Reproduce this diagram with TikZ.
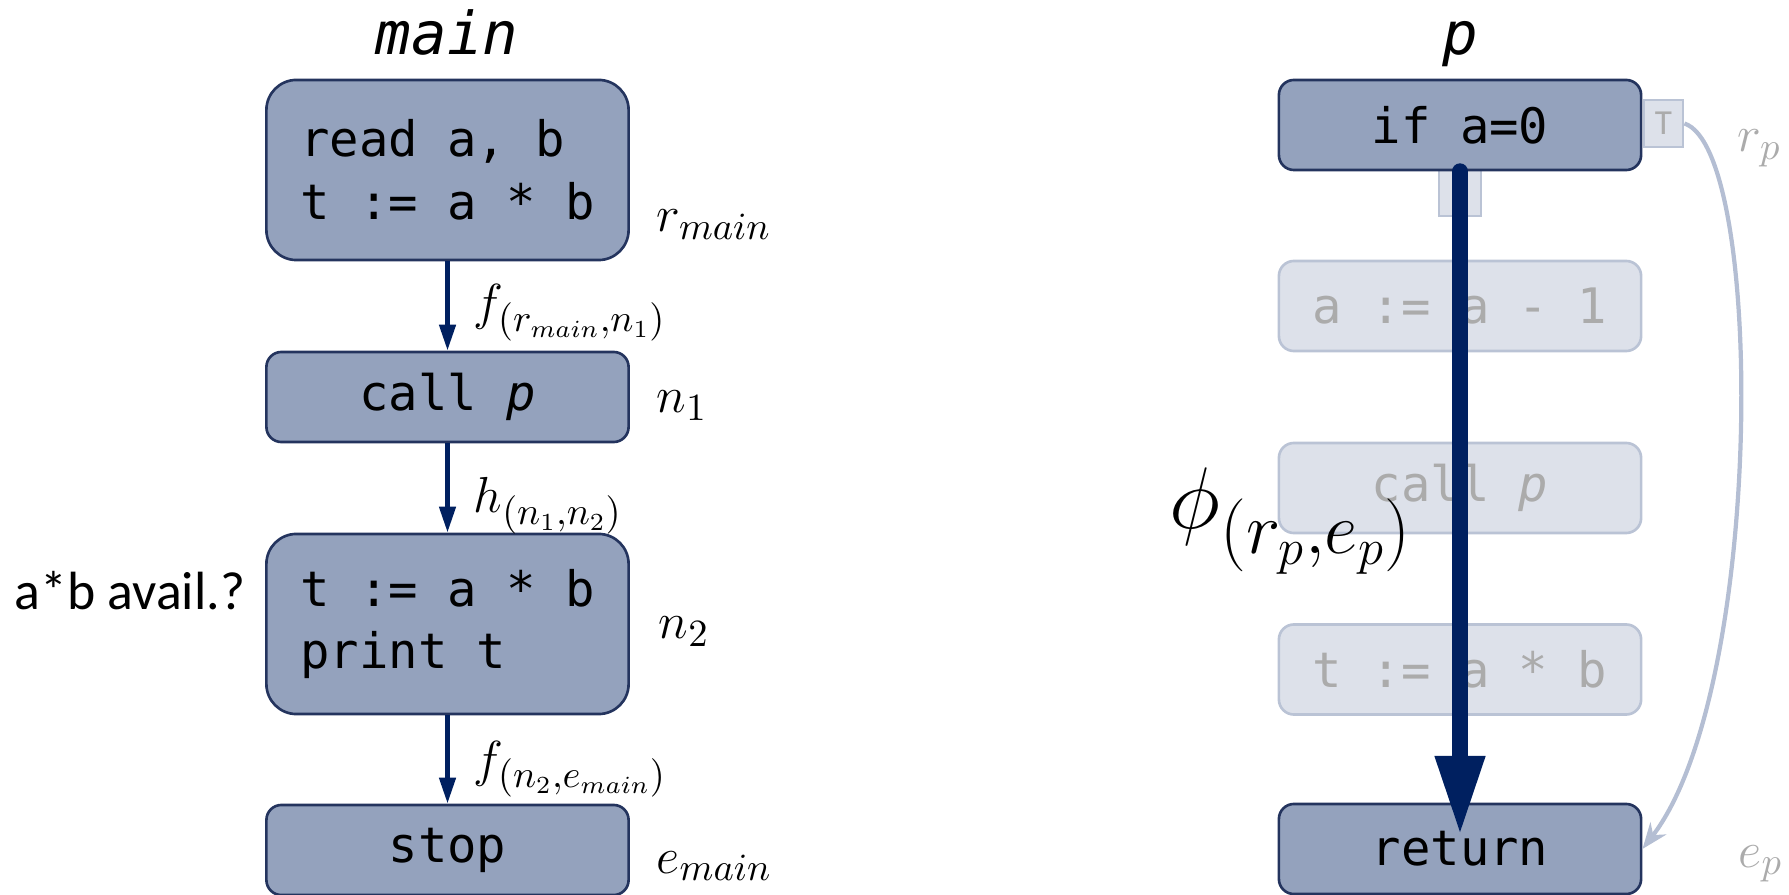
\documentclass[tikz,border=0pt]{standalone}
\usepackage{fontspec}
\setmainfont{Carlito}
\newfontfamily\cfgcode{DejaVu Sans Mono}
\usetikzlibrary{arrows.meta}

\definecolor{boxfill}{RGB}{148,162,189}
\definecolor{boxline}{RGB}{36,52,94}
\definecolor{navyflow}{RGB}{0,32,96}
\definecolor{fadefill}{RGB}{221,225,234}
\definecolor{fadeline}{RGB}{186,195,213}
\definecolor{fadetext}{RGB}{171,171,171}
\definecolor{backedge}{RGB}{180,190,211}

\begin{document}
\begin{tikzpicture}[
      x=0.01cm, y=-0.01cm,
      box/.style={draw=boxline, line width=.75pt, fill=boxfill, rounded corners=1.5mm,
                  minimum width=3.62cm, minimum height=0.9cm, inner sep=0pt, align=left,
                  font=\cfgcode\fontsize{13.9}{17.8}\selectfont},
      tallbox/.style={box, rounded corners=3mm, minimum height=1.8cm},
      faded/.style={box, draw=fadeline, fill=fadefill, text=fadetext},
      port/.style={draw=fadeline, line width=.8pt, fill=fadefill, inner sep=0pt,
                   text=fadetext, font=\fontsize{10}{12}\selectfont},
      title/.style={anchor=base, font=\cfgcode\itshape\fontsize{16.8}{20}\selectfont},
      lbl/.style={anchor=base west, inner sep=0pt, font=\fontsize{15}{18}\selectfont},
      flow/.style={draw=navyflow, line width=1.3pt, -{Triangle[length=2.6mm,width=1.6mm]}},
      bigflow/.style={draw=navyflow, line width=1.6mm, line cap=round,
                      -{Triangle[length=8mm,width=4.6mm]}},
      backflow/.style={draw=backedge, line width=1.2pt, -{Stealth[length=2.6mm,width=2mm]}}
    ]
    \useasboundingbox (0,0) rectangle (1789,895);

    % Procedure main.
    \node[title] (tmain) at (447,55) {main};
    \node[tallbox] (read) at (447.5,170) {read a, b\\t := a * b};
    \node[box] (callp) at (447.5,397) {call {\itshape p}};
    \node[tallbox] (comp) at (447.5,624) {t := a * b\\print t};
    \node[box] (stop) at (447.5,850) {stop};
    \draw[flow] (read) -- (callp);
    \draw[flow] (callp) -- (comp);
    \draw[flow] (comp) -- (stop);
    \node[lbl] (rmain) at (656,232) {$r_{main}$};
    \node[lbl] (none) at (656,413) {$n_1$};
    \node[lbl] (ntwo) at (658,639) {$n_2$};
    \node[lbl] (emain) at (656,873) {$e_{main}$};
    \node[lbl] (fone) at (473,320) {$f_{(r_{main},n_1)}$};
    \node[lbl] (hone) at (473,513) {$h_{(n_1,n_2)}$};
    \node[lbl] (ftwo) at (473,776) {$f_{(n_2,e_{main})}$};
    \node[lbl, font=\fontsize{15.3}{18}\selectfont] (avail) at (14,610) {a*b avail.?};

    % Procedure p (body faded, summarised by one edge).
    \node[title] (tp) at (1460,55) {p};
    \node[port] (fport) at (1460,193) [minimum width=.42cm, minimum height=.46cm] {};
    \node[box] (cond) at (1460,125) {if a=0};
    \node[port] (tport) at (1663.5,123.5) [minimum width=.39cm, minimum height=.47cm] {T};
    \node[faded] (dec) at (1460,306) {a := a - 1};
    \node[faded] (rec) at (1460,488) {call {\itshape p}};
    \node[faded] (recomp) at (1460,669.5) {t := a * b};
    \node[box] (ret) at (1460,849) {return};
    \coordinate (tip) at (1460,836);
    \draw[bigflow] (cond.south) -- (tip);
    \draw[backflow] (tport.east) .. controls (1765,150) and (1765,690) .. (ret.east);
    \node[lbl, text=fadetext] (rp) at (1737,152) {$r_p$};
    \node[lbl, text=fadetext] (ep) at (1738,867) {$e_p$};
    \node[lbl, font=\fontsize{31}{36}\selectfont] (phi) at (1169,529) {$\phi_{(r_p,e_p)}$};
  \end{tikzpicture}
\end{document}
